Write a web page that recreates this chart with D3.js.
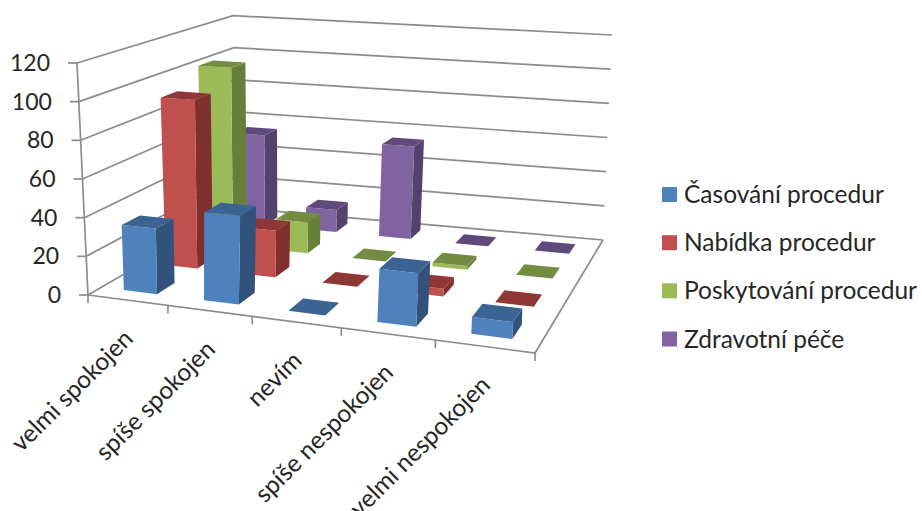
<!DOCTYPE html>
<html>
<head>
<meta charset="utf-8">
<script src="https://cdn.jsdelivr.net/npm/d3@7"></script>
<style>
html,body{margin:0;padding:0;background:#fff}
svg{display:block}
text{font-family:Lato,"Open Sans",sans-serif;fill:#262626}
</style>
</head>
<body>
<svg id="chart" width="922" height="511"></svg>
<script>
const categories = ["velmi spokojen","spíše spokojen","nevím","spíše nespokojen","velmi nespokojen"];
const seriesNames = ["Časování procedur","Nabídka procedur","Poskytování procedur","Zdravotní péče"];
const casovani = [34,45,0,26,8];
const nabidka = [92,25,0,4,0];
const poskytovani = [102,17.5,0,2,0];
const zdravotni = [54,13,54,0,0];
const yTicks = [0,20,40,60,80,100,120];
const seriesValues = [casovani,nabidka,poskytovani,zdravotni];
const faceColors = [
  {front:"#4F81BD",top:"#3B6493",side:"#32527C"},
  {front:"#C0504D",top:"#8F3735",side:"#7F2F2D"},
  {front:"#9BBB59",top:"#738C42",side:"#66803A"},
  {front:"#8064A2",top:"#5F4A7B",side:"#53416F"}
];

// Box corners of the plot: floor plane and the plane at the top of the value axis.
const floorQuad = [[88,295],[535,353],[603,240],[238,208]];
const topQuad = [[77,63],[543,92],[612,35],[233,15.6]];
// Eases the foreshortening along the category direction.
const widthEase = 0.035;

// Maps the unit square onto a quadrilateral with a projective transform.
function homography(q){
  const [[x0,y0],[x1,y1],[x2,y2],[x3,y3]] = q;
  const dx1=x1-x2, dx2=x3-x2, dy1=y1-y2, dy2=y3-y2;
  const sx=x0-x1+x2-x3, sy=y0-y1+y2-y3;
  const den=dx1*dy2-dx2*dy1;
  const g=(sx*dy2-dx2*sy)/den, h=(dx1*sy-sx*dy1)/den;
  const a=x1-x0+g*x1, b=x3-x0+h*x3, d=y1-y0+g*y1, e=y3-y0+h*y3;
  return (u,v)=>{const w=g*u+h*v+1;return [(a*u+b*v+x0)/w,(d*u+e*v+y0)/w];};
}
const floorH = homography(floorQuad), topH = homography(topQuad);

const xBand = d3.scaleBand().domain(d3.range(categories.length)).range([0,1]).paddingInner(0.58).paddingOuter(0.29);
const zBand = d3.scaleBand().domain(d3.range(seriesNames.length)).range([0,1]).paddingInner(0.58).paddingOuter(0.29);
const yScale = d3.scaleLinear().domain([0,120]).range([0,1]);

function project(u,val,v){
  const w=u+widthEase*u*(1-u);
  const t=yScale(val), a=floorH(w,v), b=topH(w,v);
  return [a[0]+(b[0]-a[0])*t, a[1]+(b[1]-a[1])*t];
}

const svg = d3.select("#chart");
const poly = pts => pts.map(p=>p.map(n=>n.toFixed(2)).join(",")).join(" ");
const path = pts => "M"+pts.map(p=>p.map(n=>n.toFixed(2)).join(",")).join("L");
const GRID="#8C8C8C", GW=1.7;
const grid = svg.append("g").attr("fill","none").attr("stroke",GRID).attr("stroke-width",GW);

// Walls: each value level runs along the left wall, then along the back wall.
yTicks.forEach(t=>{
  grid.append("path").attr("d",path([project(0,t,0),project(0,t,1),project(1,t,1)]));
  const p=project(0,t,0);
  grid.append("path").attr("d",path([[p[0]-9,p[1]],p]));
  svg.append("text").attr("x",p[0]-27).attr("y",p[1]).attr("dy","0.35em")
    .attr("text-anchor","end").style("font-size","23px").text(t);
});
// Value axis and floor outline with category ticks.
grid.append("path").attr("d",path([project(0,0,0),project(0,120,0)]));
grid.append("path").attr("d",path([project(0,0,0),project(1,0,0),project(1,0,1)]));
d3.range(categories.length+1).forEach(i=>{
  const p=project(i/categories.length,0,0);
  grid.append("path").attr("d",path([p,[p[0],p[1]+8]]));
});

// Bars, painted from the back row forward.
const bars = svg.append("g");
d3.range(seriesNames.length).reverse().forEach(s=>{
  categories.forEach((_,c)=>{
    const val=seriesValues[s][c], col=faceColors[s];
    const u0=xBand(c), u1=u0+xBand.bandwidth(), v0=zBand(s), v1=v0+zBand.bandwidth();
    if(val>0){
      bars.append("polygon").attr("fill",col.side)
        .attr("points",poly([project(u1,0,v0),project(u1,0,v1),project(u1,val,v1),project(u1,val,v0)]));
      bars.append("polygon").attr("fill",col.front)
        .attr("points",poly([project(u0,0,v0),project(u1,0,v0),project(u1,val,v0),project(u0,val,v0)]));
    }
    bars.append("polygon").attr("fill",col.top)
      .attr("points",poly([project(u0,val,v0),project(u1,val,v0),project(u1,val,v1),project(u0,val,v1)]));
  });
});

// Category labels, slanted under the front edge.
categories.forEach((name,c)=>{
  const p=project((c+0.5)/categories.length,0,0);
  svg.append("text").attr("text-anchor","end").attr("dy","0.35em")
    .attr("transform",`translate(${p[0]+1},${p[1]+34}) rotate(-45)`)
    .style("font-size","24.5px").text(name);
});

// Legend.
const legendY = d3.scalePoint().domain(seriesNames).range([194.5,339]);
seriesNames.forEach((name,s)=>{
  const y=legendY(name);
  svg.append("rect").attr("x",662).attr("y",y-7.5).attr("width",15).attr("height",15).attr("fill",faceColors[s].front);
  svg.append("text").attr("x",684).attr("y",y).attr("dy","0.35em").style("font-size","24.5px").text(name);
});
</script>
</body>
</html>
